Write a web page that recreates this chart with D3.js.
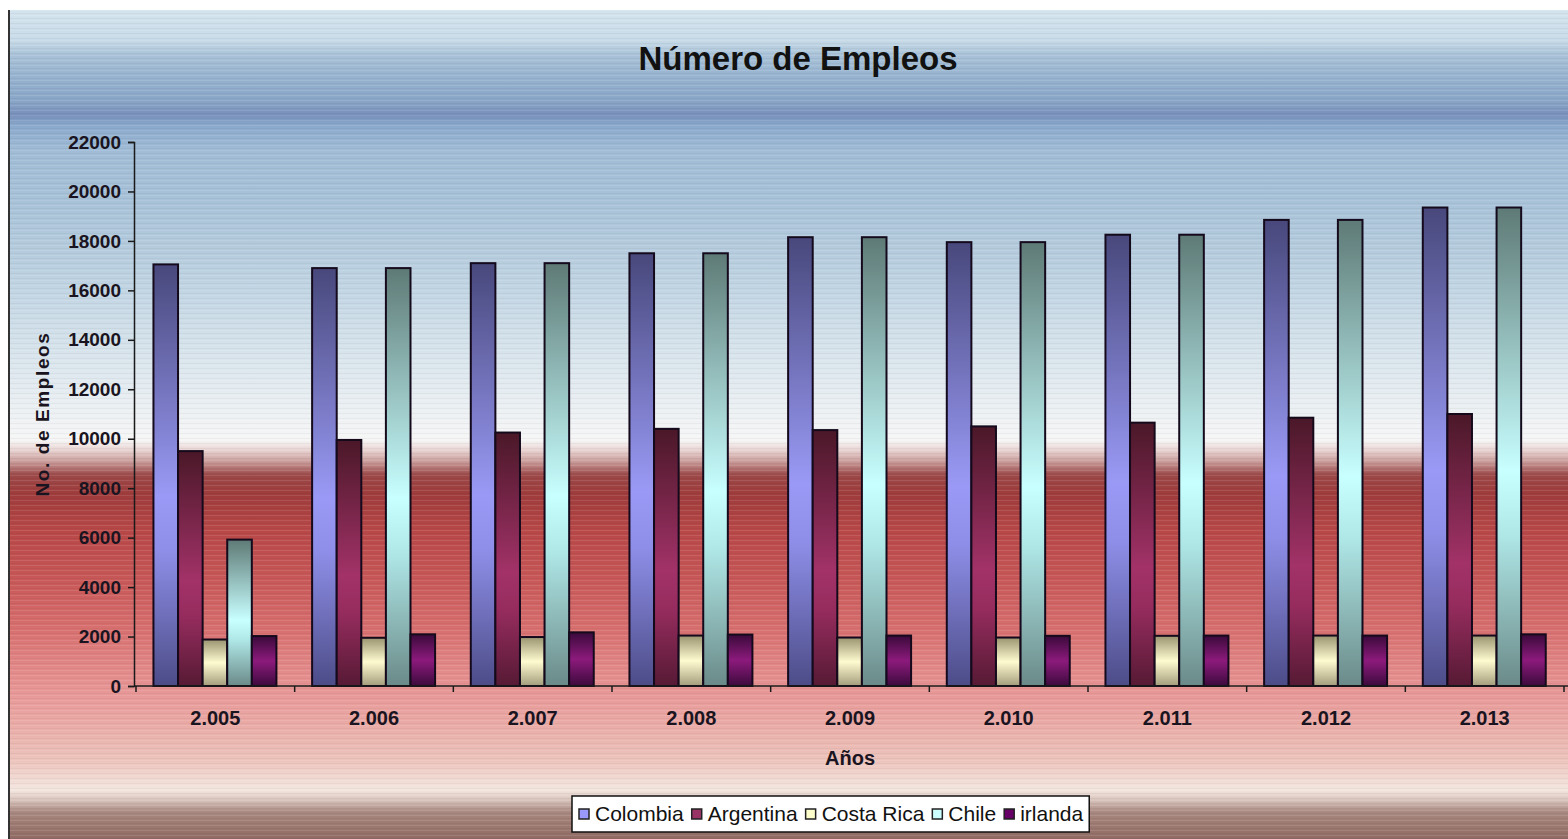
<!DOCTYPE html>
<html>
<head>
<meta charset="utf-8">
<script src="https://cdn.jsdelivr.net/npm/d3@7"></script>
<style>
  body { margin: 0; background: #fff; }
  text { font-family: "Liberation Sans", Arial, sans-serif; }
</style>
</head>
<body>
<div id="v1"></div>
<script>
const years = ["2.005", "2.006", "2.007", "2.008", "2.009", "2.010", "2.011", "2.012", "2.013"];
const seriesNames = ["Colombia", "Argentina", "Costa Rica", "Chile", "irlanda"];
const colombia  = [17050, 16900, 17100, 17500, 18150, 17950, 18250, 18850, 19350];
const argentina = [9500, 9950, 10250, 10400, 10350, 10500, 10650, 10850, 11000];
const costaRica = [1880, 1950, 1980, 2040, 1960, 1960, 2030, 2040, 2040];
const chile     = [5920, 16900, 17100, 17500, 18150, 17950, 18250, 18850, 19350];
const irlanda   = [2020, 2090, 2170, 2080, 2040, 2030, 2040, 2040, 2090];
const yTicks = [0, 2000, 4000, 6000, 8000, 10000, 12000, 14000, 16000, 18000, 20000, 22000];

const allSeries = [colombia, argentina, costaRica, chile, irlanda];

const w = 1568;
const h = 839;
const plotLeft = 134, plotRight = 1564, plotTop = 142, plotBottom = 686;

let svg = d3.select('#v1').append("svg")
    .attr("width", w)
    .attr("height", h);

let defs = svg.append("defs");

// background gradient (blue sky on top, red band below)
const bgStops = [
  [10, "#d4e4ee"], [40, "#c8dbe8"], [55, "#a9c2d8"], [75, "#98b4d0"], [100, "#8aa6c8"],
  [115, "#7890bb"], [125, "#8aa8cc"], [150, "#a0bcd6"], [200, "#a8c2d8"], [260, "#b8cedf"],
  [330, "#d0dfe9"], [400, "#e8eef2"], [440, "#f6f6f6"], [450, "#e8d4d2"], [462, "#c89a98"],
  [475, "#9c4848"], [495, "#a03c3c"], [530, "#b84848"], [580, "#c85858"], [630, "#d87070"],
  [680, "#e69090"], [720, "#eaa8a4"], [760, "#ecc4bc"], [790, "#f4e6e0"], [800, "#d8c4bc"],
  [812, "#a88880"], [839, "#906a62"]
];
let bg = defs.append("linearGradient").attr("id", "bg")
    .attr("gradientUnits", "userSpaceOnUse")
    .attr("x1", 0).attr("y1", 10).attr("x2", 0).attr("y2", 839);
bg.selectAll("stop").data(bgStops).enter().append("stop")
    .attr("offset", d => (d[0] - 10) / 829)
    .attr("stop-color", d => d[1]);

// bar gradients
const barStops = [
  [["0", "#48487c"], ["0.55", "#9a9af6"], ["0.68", "#8e8ee8"], ["1", "#4c4c88"]],
  [["0", "#4a1828"], ["0.55", "#a23268"], ["0.7", "#962c5e"], ["1", "#561a34"]],
  [["0", "#9a9470"], ["0.5", "#fffbd0"], ["1", "#a49c7c"]],
  [["0", "#5e7a76"], ["0.55", "#c8ffff"], ["0.68", "#b0e8e8"], ["1", "#6a8a88"]],
  [["0", "#3a0a3a"], ["0.5", "#8c1a7c"], ["1", "#3c0a3c"]]
];
barStops.forEach((stops, i) => {
  let g = defs.append("linearGradient").attr("id", "bar" + i)
      .attr("x1", 0).attr("y1", 0).attr("x2", 0).attr("y2", 1);
  g.selectAll("stop").data(stops).enter().append("stop")
      .attr("offset", d => d[0]).attr("stop-color", d => d[1]);
});

// faint horizontal streaks
let pat = defs.append("pattern").attr("id", "streak")
    .attr("patternUnits", "userSpaceOnUse").attr("width", 8).attr("height", 5);
pat.append("rect").attr("width", 8).attr("height", 1).attr("fill", "#fff").attr("opacity", 0.10);
pat.append("rect").attr("y", 3).attr("width", 8).attr("height", 1).attr("fill", "#000").attr("opacity", 0.04);

svg.append("rect")
    .attr("x", 10).attr("y", 10).attr("width", w - 10).attr("height", h - 10)
    .attr("fill", "url(#bg)");
svg.append("rect")
    .attr("x", 10).attr("y", 10).attr("width", w - 10).attr("height", h - 10)
    .attr("fill", "url(#streak)");

// left border
svg.append("line")
    .attr("x1", 9).attr("x2", 9).attr("y1", 10).attr("y2", h)
    .attr("stroke", "#333").attr("stroke-width", 2);

// title
svg.append("text")
    .attr("x", 798).attr("y", 70)
    .attr("text-anchor", "middle")
    .attr("font-size", "33px").attr("font-weight", "bold").attr("fill", "#111")
    .text("Número de Empleos");

let xScale = d3.scaleBand()
    .domain(years)
    .range([plotLeft + 2, plotRight]);

let x1 = d3.scaleBand()
    .domain(d3.range(seriesNames.length))
    .range([xScale.bandwidth() * 0.11, xScale.bandwidth() * 0.885]);

let yScale = d3.scaleLinear()
    .domain([0, 22000])
    .range([plotBottom, plotTop]);

// bars
allSeries.forEach((vals, si) => {
  svg.append("g").selectAll("rect").data(vals).enter().append("rect")
      .attr("x", (d, i) => xScale(years[i]) + x1(si))
      .attr("y", d => yScale(d))
      .attr("width", x1.bandwidth())
      .attr("height", d => yScale(0) - yScale(d))
      .attr("fill", "url(#bar" + si + ")")
      .attr("stroke", "#140a1c").attr("stroke-width", 2);
});

// y axis
let yAxis = d3.axisLeft(yScale).tickValues(yTicks).tickSize(6).tickPadding(7).tickFormat(d3.format("d"));
let gy = svg.append("g")
    .attr("transform", "translate(" + plotLeft + ",0)")
    .call(yAxis);
gy.select(".domain").attr("stroke", "#1a1a1a").attr("stroke-width", 1.5);
gy.selectAll(".tick line").attr("stroke", "#1a1a1a").attr("stroke-width", 1.5);
gy.selectAll(".tick text")
    .attr("font-size", "19px").attr("font-weight", "bold").attr("fill", "#1a1420")
    .attr("font-family", "Liberation Sans, Arial, sans-serif");

// x axis
svg.append("line")
    .attr("x1", plotLeft).attr("x2", w).attr("y1", plotBottom).attr("y2", plotBottom)
    .attr("stroke", "#1a1a1a").attr("stroke-width", 1.5);
svg.append("g").selectAll("line").data(years.map((d, i) => i).concat([years.length])).enter().append("line")
    .attr("x1", i => (i < years.length ? xScale(years[i]) : plotRight))
    .attr("x2", i => (i < years.length ? xScale(years[i]) : plotRight))
    .attr("y1", plotBottom).attr("y2", plotBottom + 6)
    .attr("stroke", "#1a1a1a").attr("stroke-width", 1.5);
svg.append("g").selectAll("text").data(years).enter().append("text")
    .attr("x", d => xScale(d) + xScale.bandwidth() / 2)
    .attr("y", 725)
    .attr("text-anchor", "middle")
    .attr("font-size", "20px").attr("font-weight", "bold").attr("fill", "#1a1420")
    .text(d => d);

// axis titles
svg.append("text")
    .attr("x", 850).attr("y", 765)
    .attr("text-anchor", "middle")
    .attr("font-size", "20px").attr("font-weight", "bold").attr("fill", "#1a1420")
    .text("Años");
svg.append("text")
    .attr("text-anchor", "middle")
    .attr("transform", "translate(49,414)rotate(-90)")
    .attr("font-size", "19px").attr("font-weight", "bold").attr("fill", "#1a1420")
    .attr("letter-spacing", "1.6px")
    .text("No. de Empleos");

// legend
const legendColors = ["#9999ff", "#993366", "#ffffcc", "#ccffff", "#660066"];
let lg = svg.append("g");
let lbox = lg.append("rect")
    .attr("y", 796).attr("height", 36)
    .attr("fill", "#fff").attr("stroke", "#111").attr("stroke-width", 1.5);
let lx = 579;
seriesNames.forEach((name, i) => {
  lg.append("rect")
      .attr("x", lx).attr("y", 809).attr("width", 10).attr("height", 10)
      .attr("fill", legendColors[i]).attr("stroke", "#222").attr("stroke-width", 1.5);
  let t = lg.append("text")
      .attr("x", lx + 16).attr("y", 821)
      .attr("font-size", "21px").attr("fill", "#111")
      .text(name);
  lx += 16 + t.node().getComputedTextLength() + 8;
});
lbox.attr("x", 572).attr("width", lx - 572 - 2);
</script>
</body>
</html>
